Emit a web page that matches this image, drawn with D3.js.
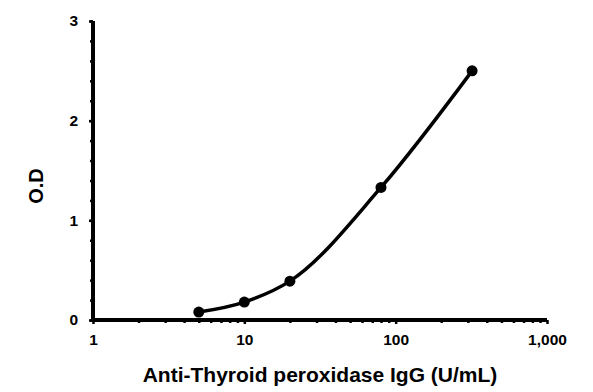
<!DOCTYPE html>
<html lang="en">
<head>
<meta charset="UTF-8">
<title>Anti-TPO IgG standard curve</title>
<script src="https://d3js.org/d3.v7.min.js"></script>
<style>
  body { margin: 0; background: #fff; }
  svg text { font-family: "Liberation Sans", Arial, sans-serif; font-weight: bold; fill: #000; }
</style>
</head>
<body>
<script>
var W = 593, H = 392;
var margin = {top: 21, left: 93, right: 46, bottom: 72};

// data
var conc = [5, 10, 20, 80, 320];
var od = [0.08, 0.18, 0.39, 1.33, 2.50];
var xTicks = [1, 10, 100, 1000];
var yTicks = [0, 1, 2, 3];

var width = W - margin.left - margin.right;
var height = H - margin.top - margin.bottom;

var x = d3.scaleLog().domain([1, 1000]).range([0, width]);
var y = d3.scaleLinear().domain([0, 3]).range([height, 0]);

var svg = d3.select("body").append("svg")
    .attr("width", W)
    .attr("height", H);

var g = svg.append("g")
    .attr("transform", "translate(" + margin.left + "," + margin.top + ")");

// minor ticks
var xMinor = [];
for (var d = 1; d < 1000; d *= 10) {
  for (var k = 2; k <= 9; k++) xMinor.push(d * k);
}
var yMinor = d3.range(0, 3.01, 0.2);

g.append("g")
    .attr("transform", "translate(0," + height + ")")
    .call(d3.axisBottom(x).tickValues(xMinor).tickSize(3).tickFormat(""))
    .call(function(s) { s.select(".domain").remove(); s.selectAll("line").attr("stroke-width", 2.5); });

g.append("g")
    .call(d3.axisLeft(y).tickValues(yMinor).tickSize(3).tickFormat(""))
    .call(function(s) { s.select(".domain").remove(); s.selectAll("line").attr("stroke-width", 2.5); });

// main axes
var xAxis = g.append("g")
    .attr("transform", "translate(0," + height + ")")
    .call(d3.axisBottom(x).tickValues(xTicks).tickSize(4).tickPadding(10).tickFormat(d3.format(",")));
xAxis.select(".domain").attr("stroke-width", 4).attr("d", "M0,0H" + width);
xAxis.selectAll("line").attr("stroke-width", 2.5);
xAxis.selectAll("text").style("font-size", "15.5px");

var yAxis = g.append("g")
    .call(d3.axisLeft(y).tickValues(yTicks).tickSize(4).tickPadding(11).tickFormat(d3.format("d")));
yAxis.select(".domain").attr("stroke-width", 4).attr("d", "M0," + height + "V0");
yAxis.selectAll("line").attr("stroke-width", 2.5);
yAxis.selectAll("text").style("font-size", "15.5px");

// axis titles
svg.append("text")
    .attr("x", 320)
    .attr("y", 382)
    .attr("text-anchor", "middle")
    .style("font-size", "21px")
    .text("Anti-Thyroid peroxidase IgG (U/mL)");

svg.append("text")
    .attr("transform", "translate(43,186) rotate(-90)")
    .attr("text-anchor", "middle")
    .style("font-size", "20px")
    .text("O.D");

// curve
var pts = conc.map(function(c, i) { return [x(c), y(od[i])]; });

g.append("path")
    .datum(pts)
    .attr("fill", "none")
    .attr("stroke", "#000")
    .attr("stroke-width", 3.5)
    .attr("d", d3.line().curve(d3.curveMonotoneX));

g.selectAll(".dot")
    .data(pts)
    .enter()
    .append("circle")
    .classed("dot", true)
    .attr("cx", function(d) { return d[0]; })
    .attr("cy", function(d) { return d[1]; })
    .attr("r", 5.5)
    .attr("fill", "#000");
</script>
</body>
</html>
